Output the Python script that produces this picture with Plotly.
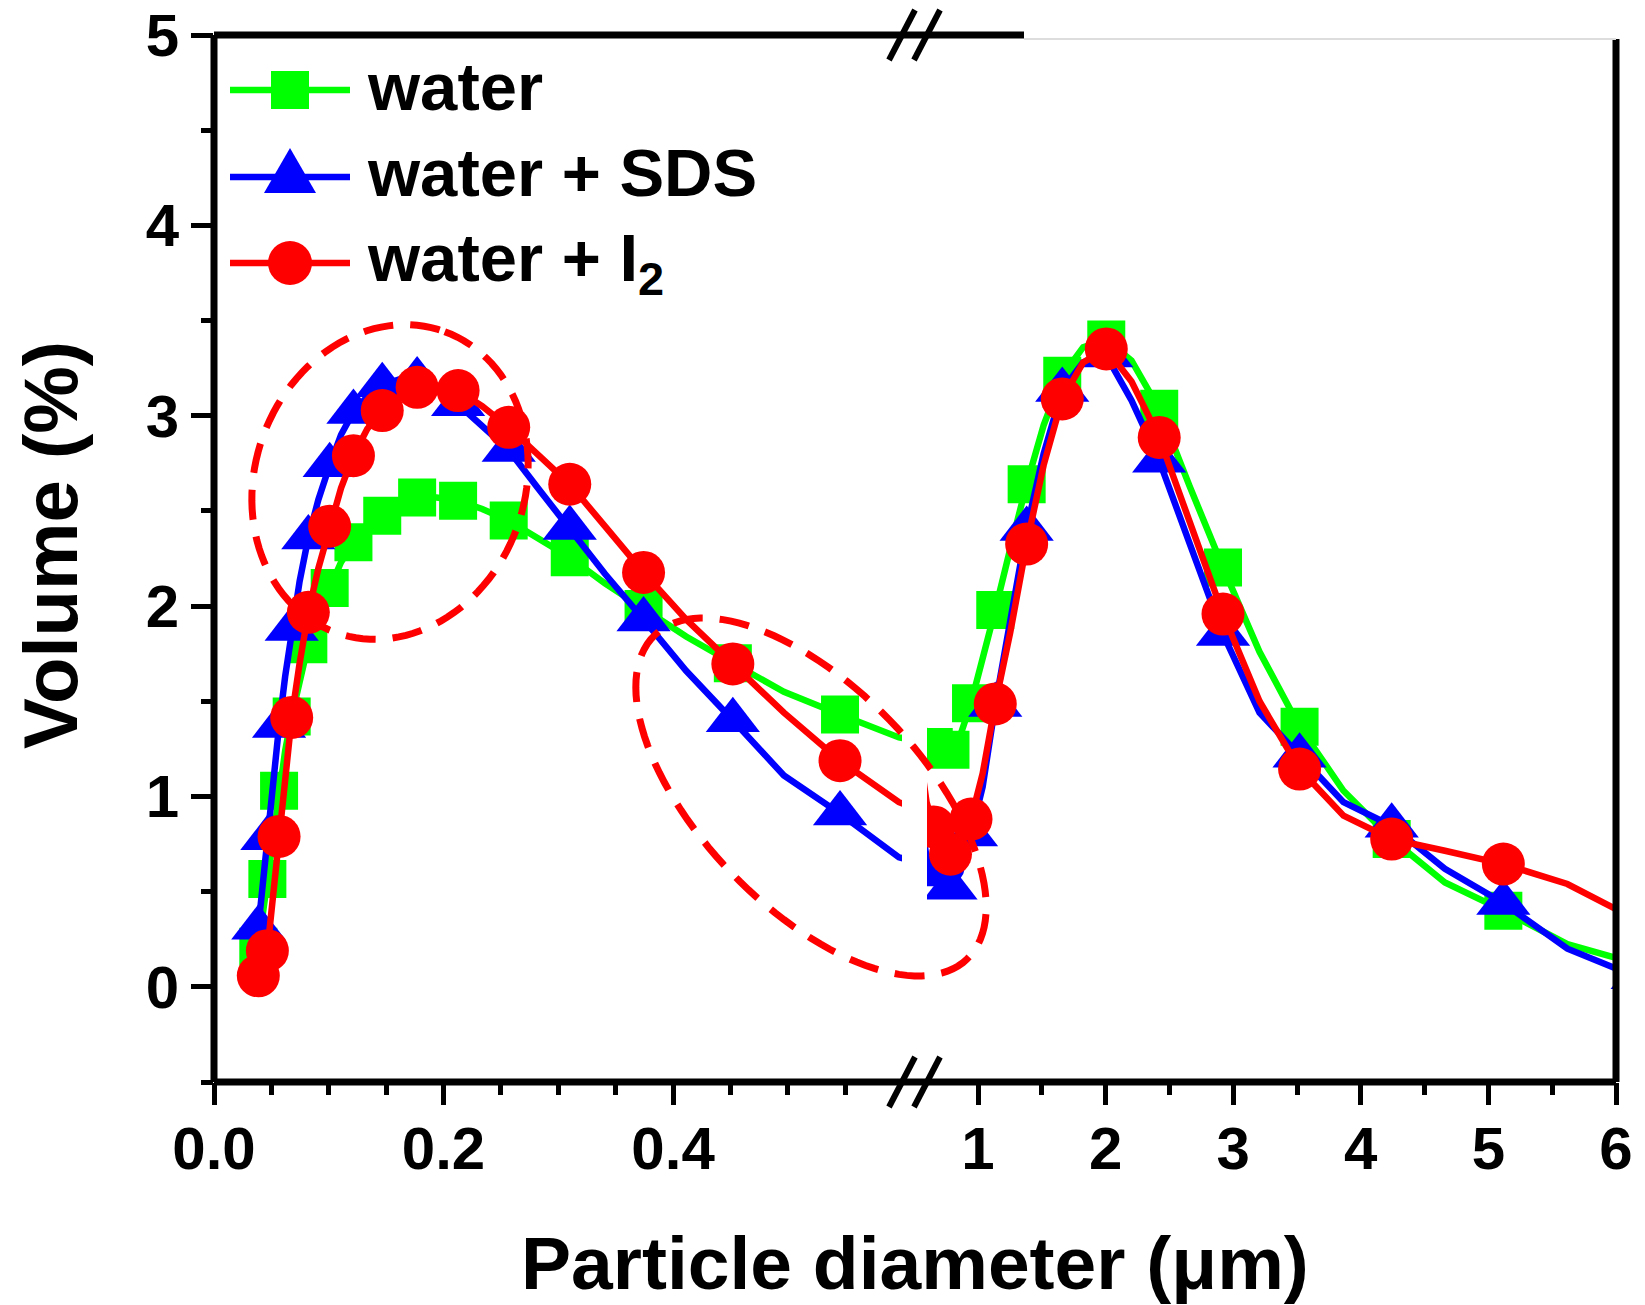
import math
import plotly.graph_objects as go

# ---------------- data ----------------
diameter_um = [0.0386, 0.0424, 0.0465, 0.0513, 0.0567, 0.0620, 0.0677, 0.0746, 0.0822, 0.0910,
               0.1008, 0.1107, 0.1215, 0.1335, 0.1466, 0.1611, 0.177, 0.194, 0.2127, 0.2337,
               0.2568, 0.2822, 0.310, 0.3406, 0.3743, 0.4114, 0.4521, 0.4966, 0.5455, 0.5968,
               0.653, 0.7155, 0.784, 0.8607, 0.945, 1.036, 1.135, 1.252, 1.381, 1.514,
               1.66, 1.824, 2.005, 2.203, 2.42, 2.658, 2.92, 3.206, 3.52, 3.864,
               4.242, 4.659, 5.117, 5.619, 6.17]

water = [0.21, 0.38, 0.566, 0.80, 1.03, 1.24, 1.42, 1.62, 1.80, 1.96,
         2.095, 2.23, 2.335, 2.42, 2.475, 2.54, 2.571, 2.57, 2.554, 2.51,
         2.449, 2.36, 2.256, 2.12, 1.985, 1.84, 1.70, 1.55, 1.43, 1.31,
         1.26, 1.24, 1.245, 1.32, 1.49, 1.72, 1.98, 2.30, 2.64, 2.95,
         3.21, 3.36, 3.40, 3.29, 3.036, 2.63, 2.203, 1.76, 1.366, 1.03,
         0.776, 0.548, 0.40, 0.224, 0.12]

water_sds = [0.31, 0.55, 0.78, 1.08, 1.37, 1.63, 1.88, 2.13, 2.36, 2.56,
             2.74, 2.90, 3.02, 3.10, 3.16, 3.19, 3.19, 3.14, 3.06, 2.95,
             2.82, 2.62, 2.41, 2.17, 1.93, 1.66, 1.40, 1.11, 0.91, 0.68,
             0.59, 0.54, 0.52, 0.60, 0.80, 1.05, 1.48, 1.93, 2.405, 2.80,
             3.135, 3.28, 3.316, 3.08, 2.764, 2.33, 1.853, 1.44, 1.214, 0.97,
             0.846, 0.62, 0.44, 0.20, 0.05]

water_i2 = [0.058, 0.10, 0.19, 0.45, 0.79, 1.10, 1.415, 1.70, 1.967, 2.20,
            2.42, 2.62, 2.79, 2.93, 3.027, 3.10, 3.149, 3.15, 3.132, 3.05,
            2.939, 2.80, 2.64, 2.42, 2.177, 1.93, 1.696, 1.44, 1.188, 0.97,
            0.84, 0.76, 0.697, 0.74, 0.881, 1.12, 1.486, 1.86, 2.326, 2.74,
            3.088, 3.28, 3.351, 3.18, 2.886, 2.44, 1.958, 1.50, 1.144, 0.899,
            0.776, 0.715, 0.645, 0.54, 0.35]

series_names = ["water", "water + SDS", "water + I<sub>2</sub>"]
left_ticks = [0.0, 0.2, 0.4]
left_ticktext = ["0.0", "0.2", "0.4"]
right_ticks = [1, 2, 3, 4, 5, 6]
y_ticks = [0, 1, 2, 3, 4, 5]
x_break = 0.6

# ---------------- styling ----------------
FONT = "Liberation Sans, Arial, sans-serif"
GREEN, BLUE, RED = "#00FF00", "#0000FF", "#FF0000"
LW = 6.5

# pixel geometry of plot area
W0, W1, H0, H1 = 214, 1616, 35, 1082


def px(x):
    return (x - W0) / (W1 - W0)


def py(y):
    return (H1 - y) / (H1 - H0)


fig = go.Figure()

styles = [
    (water, GREEN, "square", 38),
    (water_sds, BLUE, "triangle-up", 47),
    (water_i2, RED, "circle", 43),
]

for vals, color, sym, size in styles:
    for xa in ("x", "x2"):
        fig.add_trace(go.Scatter(x=diameter_um, y=vals, mode="lines", xaxis=xa, yaxis="y",
                                 line=dict(color=color, width=LW), showlegend=False,
                                 hoverinfo="skip"))
        mx = diameter_um[::2]
        my = vals[::2]
        if xa == "x":
            sel = [(a, b) for a, b in zip(mx, my) if a <= x_break]
        else:
            sel = [(a, b) for a, b in zip(mx, my) if a >= x_break]
        fig.add_trace(go.Scatter(x=[s[0] for s in sel], y=[s[1] for s in sel], mode="markers",
                                 xaxis=xa, yaxis="y",
                                 marker=dict(symbol=sym, size=size, color=color,
                                             line=dict(width=0)),
                                 showlegend=False))

split_left = px(902)
split_right = px(927)

tickfont = dict(family=FONT, size=60, color="black", weight="bold")

fig.update_layout(
    width=1645, height=1305,
    margin=dict(l=W0, r=1645 - W1, t=H0, b=1305 - H1, autoexpand=False),
    paper_bgcolor="white", plot_bgcolor="rgba(0,0,0,0)",
    showlegend=False,
    xaxis=dict(domain=[0, split_left], range=[0, 0.5995], anchor="y", automargin=False,
               tickvals=left_ticks, ticktext=left_ticktext,
               ticks="outside", ticklen=22, tickwidth=5, tickcolor="black",
               minor=dict(dtick=0.05, tick0=0, ticks="outside", ticklen=12, tickwidth=5,
                          tickcolor="black", showgrid=False),
               showgrid=False, zeroline=False, showline=False,
               tickfont=tickfont, ticklabelstandoff=-8),
    xaxis2=dict(domain=[split_right, 1], range=[0.6, 6.0], anchor="y", automargin=False,
                tickvals=right_ticks,
                ticks="outside", ticklen=22, tickwidth=5, tickcolor="black",
                minor=dict(dtick=0.5, tick0=0, ticks="outside", ticklen=12, tickwidth=5,
                           tickcolor="black", showgrid=False),
                showgrid=False, zeroline=False, showline=False,
                tickfont=tickfont, ticklabelstandoff=-8),
    yaxis=dict(range=[-0.5, 5], tickvals=y_ticks, automargin=False,
               ticks="outside", ticklen=22, tickwidth=5, tickcolor="black",
               minor=dict(dtick=0.5, tick0=0, ticks="outside", ticklen=12, tickwidth=5,
                          tickcolor="black", showgrid=False),
               showgrid=False, zeroline=False, showline=False,
               tickfont=tickfont, ticklabelstandoff=0),
)

shapes = []
FR = dict(color="black", width=7)
# frame
shapes.append(dict(type="line", xref="paper", yref="paper", x0=0, x1=1, y0=0, y1=0, line=FR))
shapes.append(dict(type="line", xref="paper", yref="paper", x0=0, x1=0, y0=0, y1=1, line=FR))
shapes.append(dict(type="line", xref="paper", yref="paper", x0=1, x1=1, y0=0, y1=py(39), line=FR))
shapes.append(dict(type="line", xref="paper", yref="paper", x0=0, x1=px(1024), y0=1, y1=1, line=FR))
shapes.append(dict(type="line", xref="paper", yref="paper", x0=px(1024), x1=1, y0=py(39), y1=py(39),
                   line=dict(color="#dddddd", width=2)))
# axis-break slashes (bottom and top)
for yc in (H1, H0):
    for xc in (902, 927):
        shapes.append(dict(type="line", xref="paper", yref="paper",
                           x0=px(xc - 13), y0=py(yc + 25), x1=px(xc + 13), y1=py(yc - 25),
                           line=dict(color="black", width=6)))


def ellipse_path(cx, cy, a, b, ang_deg, n=120):
    th = math.radians(ang_deg)
    ux, uy = math.cos(th), math.sin(th)
    vx, vy = -math.sin(th), math.cos(th)
    pts = []
    for k in range(n + 1):
        t = 2 * math.pi * k / n
        X = cx + a * math.cos(t) * ux + b * math.sin(t) * vx
        Y = cy + a * math.cos(t) * uy + b * math.sin(t) * vy
        pts.append(f"{px(X):.5f},{py(Y):.5f}")
    return "M" + " L".join(pts) + " Z"


DASH = dict(color=RED, width=7, dash="30px,17px")
shapes.append(dict(type="path", xref="paper", yref="paper",
                   path=ellipse_path(390, 482, 160, 135, -70), line=DASH, layer="above"))
shapes.append(dict(type="path", xref="paper", yref="paper",
                   path=ellipse_path(811, 797, 225, 110, 46), line=DASH, layer="above"))

# legend (drawn)
shapes.append(dict(type="line", xref="paper", yref="paper", x0=px(230), x1=px(350), y0=py(90), y1=py(90),
                   line=dict(color=GREEN, width=LW)))
shapes.append(dict(type="rect", xref="paper", yref="paper", x0=px(271), x1=px(309), y0=py(71), y1=py(109),
                   fillcolor=GREEN, line=dict(width=0)))
shapes.append(dict(type="line", xref="paper", yref="paper", x0=px(230), x1=px(350), y0=py(177), y1=py(177),
                   line=dict(color=BLUE, width=LW)))
shapes.append(dict(type="path", xref="paper", yref="paper",
                   path=f"M{px(264)},{py(193)} L{px(316)},{py(193)} L{px(290)},{py(148)} Z",
                   fillcolor=BLUE, line=dict(width=0)))
shapes.append(dict(type="line", xref="paper", yref="paper", x0=px(230), x1=px(350), y0=py(263), y1=py(263),
                   line=dict(color=RED, width=LW)))
shapes.append(dict(type="circle", xref="paper", yref="paper", x0=px(268), x1=px(312), y0=py(241), y1=py(285),
                   fillcolor=RED, line=dict(width=0)))

fig.update_layout(shapes=shapes)

annots = []
for name, r in zip(series_names, [86, 173, 262]):
    annots.append(dict(text=name, xref="paper", yref="paper", x=px(365), y=py(r),
                       xanchor="left", yanchor="middle", showarrow=False,
                       font=dict(family=FONT, size=67, color="black", weight="bold")))
annots.append(dict(text="Particle diameter (\u03bcm)", xref="paper", yref="paper",
                   x=px(915), y=py(1263), xanchor="center", yanchor="middle", showarrow=False,
                   font=dict(family=FONT, size=75, color="black", weight="bold")))
annots.append(dict(text="Volume (%)", xref="paper", yref="paper", textangle=-90,
                   x=px(50), y=py(545), xanchor="center", yanchor="middle", showarrow=False,
                   font=dict(family=FONT, size=76, color="black", weight="bold")))
fig.update_layout(annotations=annots)

fig.write_html("out.html")
